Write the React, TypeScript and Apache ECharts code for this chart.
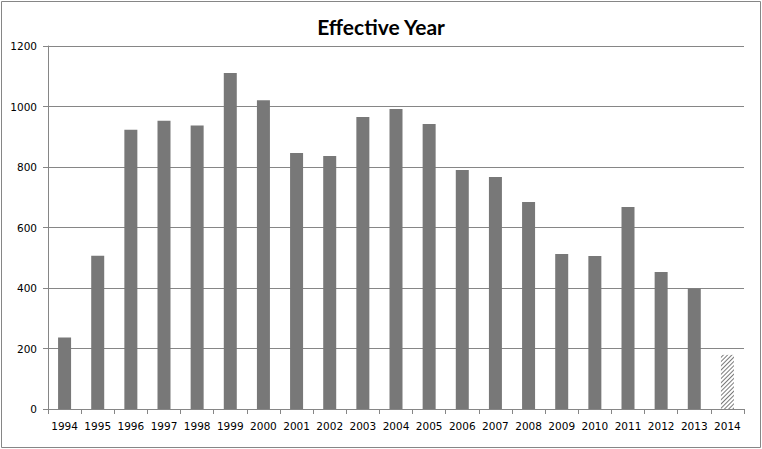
import React, { useEffect, useRef } from 'react';
import * as echarts from 'echarts';

const years = ['1994', '1995', '1996', '1997', '1998', '1999', '2000', '2001', '2002', '2003', '2004', '2005', '2006', '2007', '2008', '2009', '2010', '2011', '2012', '2013', '2014'];
const counts = [236, 507, 923, 953, 937, 1111, 1021, 846, 836, 965, 992, 942, 790, 767, 684, 512, 506, 668, 453, 398, 179];
const partialYear = '2014';
const titleText = 'Effective Year';

export default function App() {
  const ref = useRef<HTMLDivElement>(null);
  useEffect(() => {
    document.body.style.margin = '0';
    const chart = echarts.init(ref.current!, null, { renderer: 'svg' });
    const axisGray = '#868686';
    chart.setOption({
      animation: false,
      title: {
        text: titleText,
        left: 'center',
        top: 11,
        textStyle: { fontFamily: 'Lato', fontWeight: 'bold', fontSize: 21, color: '#000' },
      },
      grid: { left: 48, right: 18, top: 46, bottom: 40, containLabel: false },
      xAxis: {
        type: 'category',
        data: years,
        axisLine: { show: true, lineStyle: { color: axisGray, width: 1 } },
        axisTick: { show: true, length: 5, interval: 0, alignWithLabel: false, lineStyle: { color: axisGray } },
        axisLabel: { interval: 0, margin: 11, color: '#000', fontFamily: 'DejaVu Sans', fontSize: 10.5 },
        splitLine: { show: false },
      },
      yAxis: {
        type: 'value',
        min: 0,
        max: 1200,
        interval: 200,
        axisLine: { show: true, lineStyle: { color: axisGray, width: 1 } },
        axisTick: { show: true, length: 5, lineStyle: { color: axisGray } },
        axisLabel: {
          margin: 11,
          color: '#000',
          fontFamily: 'DejaVu Sans',
          fontSize: 10.5,
          formatter: (v: number) => String(v),
        },
        splitLine: { show: true, lineStyle: { color: axisGray, width: 1 } },
      },
      series: [
        {
          type: 'bar',
          barWidth: 13,
          itemStyle: { color: '#787878' },
          data: counts.map((v, i) =>
            years[i] === partialYear
              ? {
                  value: v,
                  itemStyle: {
                    color: '#ffffff',
                    decal: {
                      symbol: 'rect',
                      symbolSize: 1,
                      color: '#7a7a7a',
                      backgroundColor: '#ffffff',
                      dashArrayX: [1, 0],
                      dashArrayY: [1, 1.2],
                      rotation: -Math.PI / 4,
                    },
                  },
                }
              : v
          ),
        },
      ],
      graphic: [
        {
          type: 'rect',
          shape: { x: 1.5, y: 1.5, width: 759, height: 446 },
          style: { fill: 'none', stroke: axisGray, lineWidth: 1 },
          silent: true,
        },
      ],
    });
    return () => chart.dispose();
  }, []);
  return <div ref={ref} style={{ width: 762, height: 449 }} />;
}
